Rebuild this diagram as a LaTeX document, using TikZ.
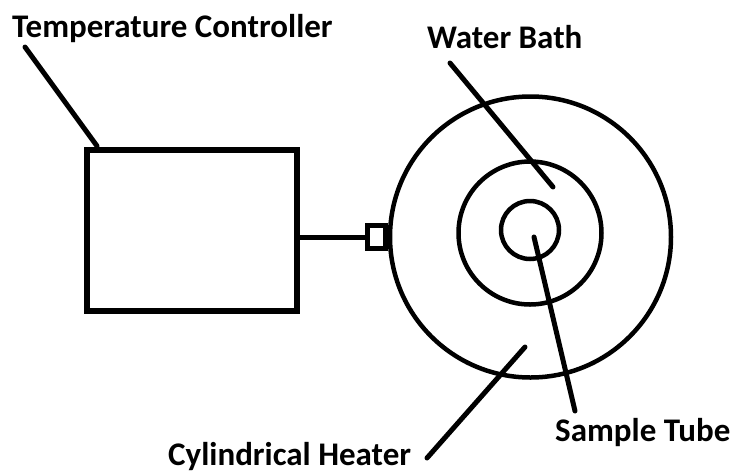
\documentclass[tikz,border=0pt]{standalone}
\usepackage{fontspec}
\setmainfont{Carlito}
\usetikzlibrary{positioning}

\begin{document}
\begin{tikzpicture}[
  x=1pt,y=-1pt,
  every node/.style={font=\bfseries\fontsize{33}{38}\selectfont,inner sep=0pt},
  box/.style={draw,rectangle,line width=6pt},
  ring/.style={draw,circle,line width=4.5pt},
  leader/.style={line width=5pt,line cap=round}
]
\useasboundingbox (0,0) rectangle (740,475);
% apparatus
\node[box,minimum width=210pt,minimum height=161pt] (ctrl) at (192,230.5) {};
\node[ring,minimum size=281pt] (heater) at (530.5,237) {};
\node[ring,minimum size=143pt] (bath) at (530,233) {};
\node[ring,minimum size=58pt] (tube) at (530,230) {};
\node[box,line width=4.5pt,minimum width=18pt,minimum height=23pt,anchor=east] (plug) at (heater.west) {};
\draw[line width=5pt] (ctrl.east |- plug.west) -- (plug.west);
% labels
\node[anchor=base west] (tctrl) at (12,37) {Temperature Controller};
\node[anchor=base west] (wbath) at (427,48) {Water Bath};
\node[anchor=base west] (stube) at (555,441) {Sample Tube};
\node[anchor=base west] (cheat) at (168,465) {Cylindrical Heater};
% leaders
\coordinate (tc1) at (25,47);   \coordinate (tc2) at (97,146);
\coordinate (wb1) at (450,63);  \coordinate (wb2) at (553,187);
\coordinate (st1) at (575,411); \coordinate (st2) at (534,237);
\coordinate (ch1) at (427,458); \coordinate (ch2) at (525,347);
\draw[leader] (tc1) -- (tc2);
\draw[leader] (wb1) -- (wb2);
\draw[leader] (st1) -- (st2);
\draw[leader] (ch1) -- (ch2);
\end{tikzpicture}
\end{document}
